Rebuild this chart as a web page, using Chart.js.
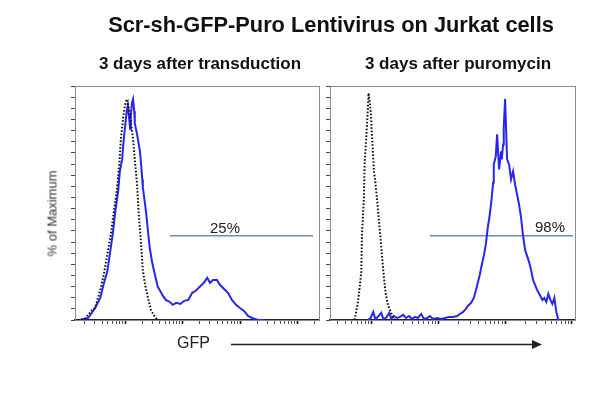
<!DOCTYPE html>
<html>
<head>
<meta charset="utf-8">
<script src="https://cdn.jsdelivr.net/npm/chart.js@4.4.1/dist/chart.umd.min.js"></script>
<style>
  html, body { margin: 0; padding: 0; background: #fff; }
  #stage { position: relative; width: 600px; height: 419px; overflow: hidden; font-family: "Liberation Sans", Arial, sans-serif; color: #111; }
  #stage canvas { position: absolute; left: 0; top: 0; }
  .txt { position: absolute; white-space: nowrap; font-weight: normal; }
  #title { left: 0; width: 662px; top: 14px; font-size: 21.8px; line-height: 21.8px; font-weight: bold; text-align: center; }
  .sub { top: 55px; font-size: 17px; line-height: 17px; font-weight: bold; text-align: center; width: 280px; }
  #ylab { left: -8px; top: 207px; width: 120px; font-size: 13px; line-height: 13px; text-align: center; transform: rotate(-90deg); color: #333; }
  #gfp { left: 177px; top: 335px; font-size: 16px; line-height: 16px; color: #222; }
  .pct { font-size: 15px; line-height: 15px; color: #222; }
  #arrow { position: absolute; left: 0; top: 0; }
</style>
</head>
<body>
<div id="stage">
  <canvas id="leftChart" width="600" height="419"></canvas>
  <canvas id="rightChart" width="600" height="419"></canvas>
  <div class="txt" id="title">Scr-sh-GFP-Puro Lentivirus on Jurkat cells</div>
  <div class="txt sub" id="sub1" style="left:60px">3 days after transduction</div>
  <div class="txt sub" id="sub2" style="left:318px">3 days after puromycin</div>
  <div class="txt" id="ylab">% of Maximum</div>
  <div class="txt" id="gfp">GFP</div>
  <div class="txt pct" id="pctLeft" style="left:210px; top:220px"></div>
  <div class="txt pct" id="pctRight" style="left:535px; top:219px"></div>
  <svg id="arrow" width="600" height="419">
    <line x1="231" y1="344.5" x2="534" y2="344.5" stroke="#222" stroke-width="1.6"/>
    <polygon points="532,340 542,344.5 532,349" fill="#222"/>
  </svg>
</div>
<script>
// log10(GFP) bins and % of max
const leftCtrlX = [0.18,0.30,0.43,0.48,0.57,0.63,0.70,0.76,0.81,0.86,0.90,0.93,0.97,1.00,1.03,1.07,1.10,1.14,1.17,1.21,1.24,1.28,1.31,1.35,1.40,1.45,1.52,1.57];
const leftCtrlY = [0,0.5,4.5,5.4,13.5,20.3,30.6,39.6,49.5,58.6,69.8,82.0,91.0,96.4,99.1,94.6,89.2,81.1,72.1,60.8,47.3,33.8,22.5,15.8,9.9,4.5,1.4,0];

const leftGfpX = [0.22,0.36,0.48,0.57,0.62,0.69,0.74,0.79,0.83,0.88,0.91,0.95,0.97,1.00,1.03,1.05,1.07,1.09,1.10,1.12,1.14,1.16,1.17,1.21,1.23,1.26,1.28,1.30,1.31,1.35,1.38,1.40,1.43,1.47,1.52,1.57,1.61,1.66,1.71,1.78,1.83,1.89,1.96,2.03,2.10,2.17,2.23,2.30,2.37,2.43,2.48,2.53,2.60,2.65,2.72,2.79,2.86,2.93,3.00,3.07,3.14,3.21,3.31,3.43];
const leftGfpY = [0,0.9,5.4,9.9,15.3,21.6,30.2,39.2,48.6,57.7,66.7,72.1,78.8,86.5,93.7,96.4,91.0,85.6,91.0,97.3,99.1,93.7,88.3,83.3,80.2,75.7,69.8,63.1,59.5,51.8,45.0,39.6,32.4,26.1,20.3,14.9,13.1,10.8,9.0,8.1,6.8,7.7,7.2,8.6,9.0,12.2,13.1,14.9,16.7,18.9,16.7,18.0,18.0,15.8,14.0,12.2,9.0,6.8,5.4,4.1,1.8,0.9,0,0];

const rightCtrlX = [0.74,0.79,0.82,0.84,0.85,0.88,0.89,0.92,0.94,0.95,0.98,1.00,1.03,1.05,1.08,1.11,1.15,1.18,1.21,1.24,1.27,1.32,1.35];
const rightCtrlY = [0,8.1,15.8,21.6,38.3,55.0,69.8,84.7,95.5,101.8,94.6,83.3,66.7,62.2,53.2,42.8,29.3,18.9,11.3,6.8,4.5,0.9,0];

const rightGfpX = [0.94,0.98,1.02,1.05,1.09,1.14,1.17,1.21,1.26,1.29,1.33,1.38,1.42,1.47,1.51,1.56,1.60,1.65,1.69,1.74,1.78,1.83,1.87,1.92,1.98,2.04,2.10,2.16,2.22,2.28,2.32,2.37,2.41,2.44,2.49,2.53,2.56,2.59,2.62,2.65,2.68,2.71,2.74,2.77,2.80,2.82,2.83,2.86,2.88,2.91,2.94,2.95,2.97,2.98,3.00,3.02,3.03,3.06,3.09,3.12,3.15,3.18,3.21,3.24,3.27,3.30,3.33,3.36,3.39,3.42,3.45,3.48,3.53,3.56,3.59,3.62,3.65,3.68,3.71,3.74,3.77,3.80,3.84];
const rightGfpY = [0,0.9,3.6,0.5,1.4,3.2,0.5,0.9,3.2,0.5,1.8,0.9,1.4,2.3,0.9,1.8,0.5,1.4,0.9,2.7,0.5,0.9,1.8,0.5,0.9,0.5,0.9,1.4,1.4,1.8,2.7,3.6,5.0,6.3,7.7,9.9,13.1,16.7,20.3,24.8,28.8,33.8,41.4,47.3,55.0,61.7,69.8,73.4,83.3,67.6,75.7,72.1,78.8,86.5,99.1,81.1,72.1,69.8,63.1,66.7,60.8,56.3,51.8,45.9,37.8,31.5,28.8,26.1,22.5,18.0,15.8,13.5,10.8,9.0,9.9,8.1,11.7,9.0,7.2,9.9,3.6,0,0];

// gates (log10 GFP from..to) and their labels
const gateLeft = [1.78, 4.27];
const gateRight = [1.87, 4.02];
const gateLevel = 37.8;
const gateLabels = ['25%', '98%'];

// axis ranges per panel (log10 units) and tick layout
const leftRange = [0.13, 4.374];
const rightRange = [0.37, 4.05];
const yRange = [0, 105];
const yStep = 5;
const decades = [0, 1, 2, 3, 4];
const mantissas = [1, 2, 3, 4, 5, 6, 7, 8, 9];

const BLUE = '#2626ee';
const GATE = '#6b8cb3';

const pts = (xs, ys) => xs.map((x, i) => ({ x, y: ys[i] }));

function logTicks(min, max) {
  const out = [];
  decades.forEach(d => mantissas.forEach(m => {
    const v = d + Math.log10(m);
    if (v >= min && v <= max) out.push({ value: v });
  }));
  return out;
}

const isMajor = v => Math.abs(v - Math.round(v)) < 1e-6;

const framePlugin = {
  id: 'frame',
  beforeDatasetsDraw(chart) {
    const { ctx, chartArea: a } = chart;
    ctx.save();
    ctx.strokeStyle = '#8c8c8c';
    ctx.lineWidth = 1;
    ctx.strokeRect(a.left + 0.5, a.top + 0.5, a.right - a.left, a.bottom - a.top);
    ctx.restore();
  }
};

function makePanel(id, ctrlX, ctrlY, gfpX, gfpY, gate, range, left, right) {
  return new Chart(document.getElementById(id), {
    type: 'line',
    data: {
      datasets: [
        { data: pts(ctrlX, ctrlY), borderColor: '#111', borderWidth: 2, borderDash: [1.6, 1.8], fill: false },
        { data: pts(gfpX, gfpY), borderColor: BLUE, borderWidth: 2, fill: false },
        { data: pts(gate, [gateLevel, gateLevel]), borderColor: GATE, borderWidth: 1.4, fill: false },
      ],
    },
    options: {
      responsive: false,
      animation: false,
      events: [],
      layout: { padding: { left: left - 10, right: 600 - right, top: 86, bottom: 419 - 320 - 10 } },
      elements: { point: { radius: 0 }, line: { tension: 0 } },
      plugins: { legend: { display: false }, tooltip: { enabled: false } },
      scales: {
        x: {
          type: 'linear', min: range[0], max: range[1],
          afterBuildTicks: s => { s.ticks = logTicks(range[0], range[1]); },
          afterFit: s => { s.height = 10; },
          ticks: { display: false, autoSkip: false },
          grid: {
            drawOnChartArea: false, tickLength: 4,
            tickColor: c => isMajor(c.tick.value) ? '#111' : '#555',
            tickWidth: c => isMajor(c.tick.value) ? 1.6 : 1,
          },
          border: { color: '#222', width: 1.5 },
        },
        y: {
          min: yRange[0], max: yRange[1],
          afterFit: s => { s.width = 10; },
          ticks: { display: false, stepSize: yStep },
          grid: { drawOnChartArea: false, tickLength: 4, tickColor: '#444' },
          border: { color: '#444', width: 1 },
        },
      },
    },
    plugins: [framePlugin],
  });
}

makePanel('leftChart', leftCtrlX, leftCtrlY, leftGfpX, leftGfpY, gateLeft, leftRange, 75, 319);
makePanel('rightChart', rightCtrlX, rightCtrlY, rightGfpX, rightGfpY, gateRight, rightRange, 330, 575);

document.getElementById('pctLeft').textContent = gateLabels[0];
document.getElementById('pctRight').textContent = gateLabels[1];
</script>
</body>
</html>
